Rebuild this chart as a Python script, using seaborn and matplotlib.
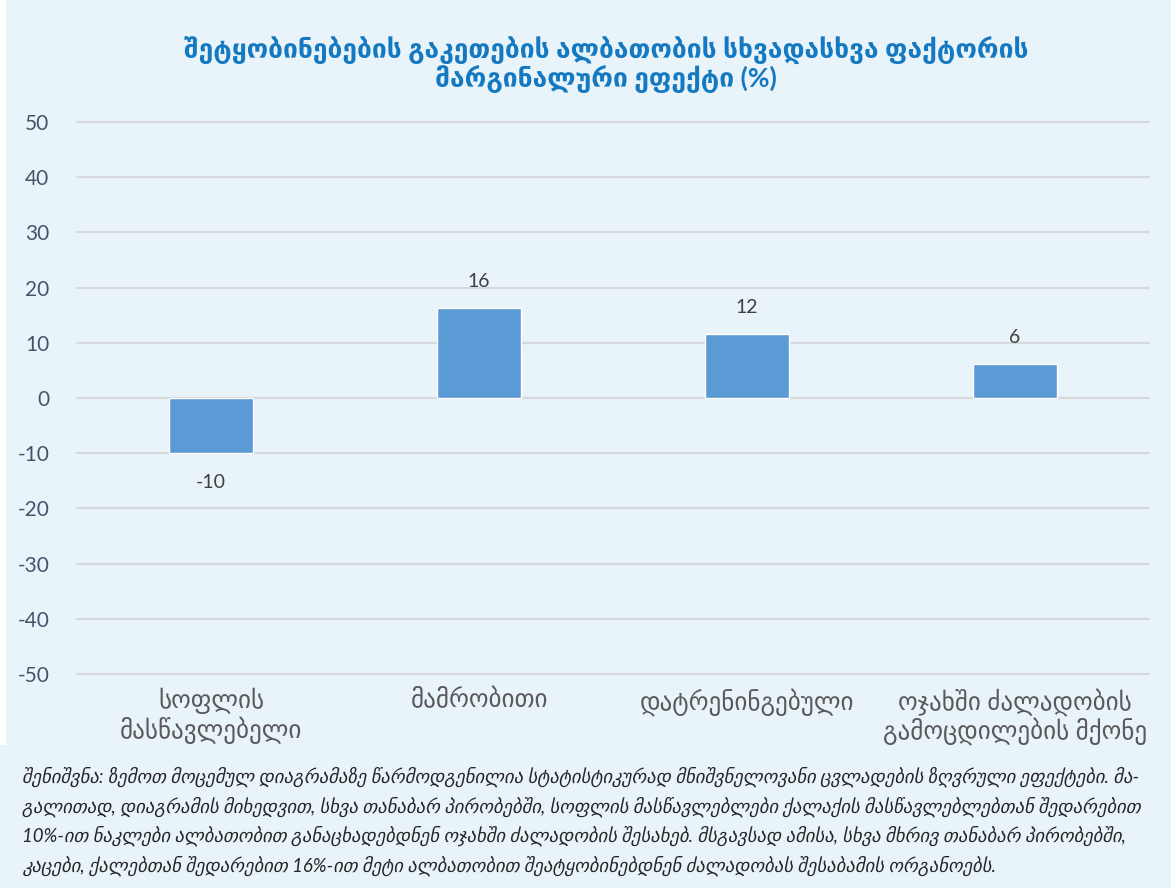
import matplotlib
matplotlib.use("Agg")
import matplotlib.pyplot as plt
import seaborn as sns
import pandas as pd
from matplotlib.patches import Rectangle

categories = ["სოფლის\nმასწავლებელი", "მამრობითი", "დატრენინგებული",
              "ოჯახში ძალადობის\nგამოცდილების მქონე"]
values = [-10.0, 16.3, 11.6, 6.1]
labels = ["-10", "16", "12", "6"]
yticks = [-50, -40, -30, -20, -10, 0, 10, 20, 30, 40, 50]

title = "შეტყობინებების გაკეთების ალბათობის სხვადასხვა ფაქტორის\nმარგინალური ეფექტი (%)"
note_lines = [
    "შენიშვნა: ზემოთ მოცემულ დიაგრამაზე წარმოდგენილია სტატისტიკურად მნიშვნელოვანი ცვლადების ზღვრული ეფექტები. მა-",
    "გალითად, დიაგრამის მიხედვით, სხვა თანაბარ პირობებში, სოფლის მასწავლებლები ქალაქის მასწავლებლებთან შედარებით",
    "10%-ით ნაკლები ალბათობით განაცხადებდნენ ოჯახში ძალადობის შესახებ. მსგავსად ამისა, სხვა მხრივ თანაბარ პირობებში,",
    "კაცები, ქალებთან შედარებით 16%-ით მეტი ალბათობით შეატყობინებდნენ ძალადობას შესაბამის ორგანოებს.",
]

sns.set_theme(style="white")
plt.rcParams['font.family'] = ['Lato', 'DejaVu Sans']
plt.rcParams['axes.unicode_minus'] = False

BG = "#E9F3FA"
fig = plt.figure(figsize=(11.71, 8.88), dpi=100, facecolor=BG)
fig.patches.append(Rectangle((0, 1 - 745 / 888), 6 / 1171, 745 / 888,
                             transform=fig.transFigure, facecolor="white",
                             edgecolor="none", zorder=0))

ax = fig.add_axes([77 / 1171, 1 - 674 / 888, (1149 - 77) / 1171, (674 - 122) / 888])
ax.set_facecolor(BG)

df = pd.DataFrame({"cat": categories, "val": values})
sns.barplot(data=df, x="cat", y="val", color="#5B9BD5", width=0.31,
            saturation=1, ax=ax, zorder=3)

ax.set_ylim(-50, 50)
ax.set_yticks(yticks)
ax.set_yticklabels([str(t) for t in yticks])
ax.set_xlim(-0.5, len(categories) - 0.5)
for t in yticks:
    ax.axhline(t, color="#D5D9DC", lw=1.6, zorder=1, clip_on=False)
for s in ax.spines.values():
    s.set_visible(False)
ax.set_xlabel("")
ax.set_ylabel("")
ax.tick_params(axis="y", length=0, pad=20, labelsize=15, labelcolor="#44546A")
ax.tick_params(axis="x", length=0, pad=10, labelsize=18, labelcolor="#595959")
for lab in ax.get_xticklabels():
    lab.set_linespacing(1.1)

for i, (v, l) in enumerate(zip(values, labels)):
    if v >= 0:
        ax.annotate(l, (i, v), xytext=(0, 13), textcoords="offset points",
                    ha="center", va="bottom", fontsize=14, color="#404040")
    else:
        ax.annotate(l, (i, v), xytext=(0, -15), textcoords="offset points",
                    ha="center", va="top", fontsize=14, color="#404040")

fig.text(606 / 1171, 1 - 65 / 888, title, ha="center", va="center",
         fontsize=19, fontweight="bold", color="#1479C0", linespacing=1.0)

for k, line in enumerate(note_lines):
    fig.text(22 / 1171, 1 - (777 + k * 29.5) / 888, line, ha="left", va="center",
             fontsize=13.4, style="italic", color="#262626")

fig.savefig("out.png", dpi=100, facecolor=BG)
